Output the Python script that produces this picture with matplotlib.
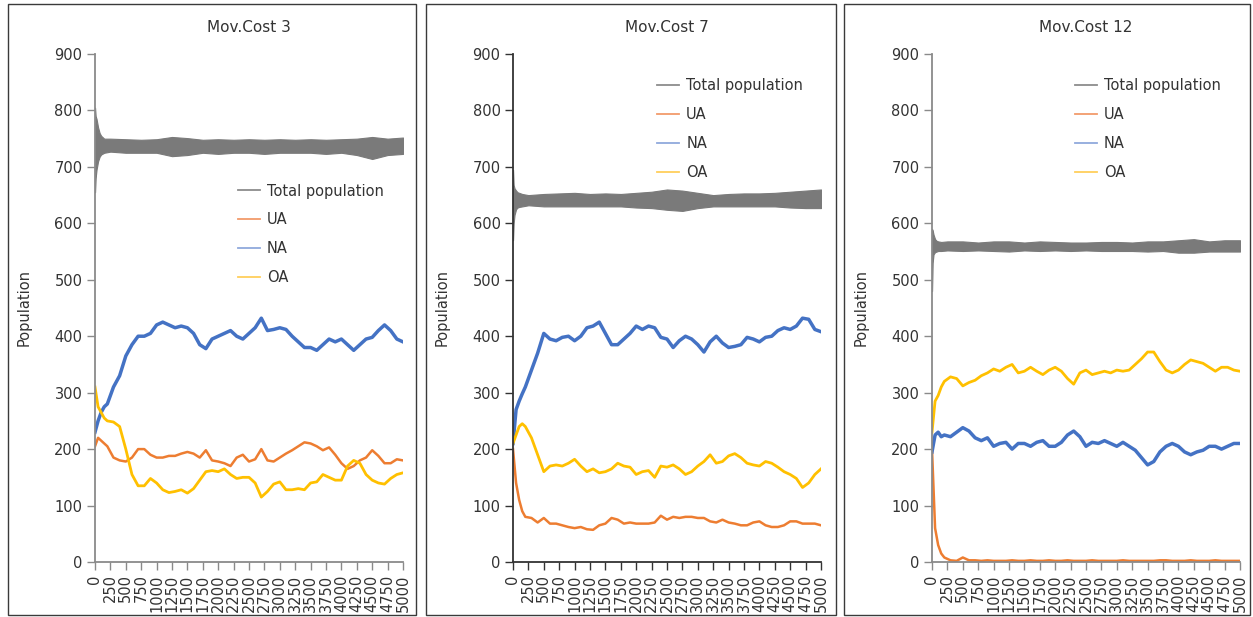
import matplotlib
matplotlib.use('Agg')
import matplotlib.pyplot as plt
from matplotlib.lines import Line2D
from matplotlib.patches import Rectangle

# time steps for the agent groups and for the total population band
steps = [0, 50, 100, 150, 200] + list(range(300, 5001, 100))
tsteps = [0, 10, 25, 50, 75, 100, 150, 250, 500, 750, 1000, 1250, 1500, 1750,
          2000, 2250, 2500, 2750, 3000, 3250, 3500, 3750, 4000, 4250, 4500, 4750, 5000]

titles = ['Mov.Cost 3', 'Mov.Cost 7', 'Mov.Cost 12']
labels = ['Total population', 'UA', 'NA', 'OA']

# Mov.Cost 3
tot3_lo = [655, 680, 695, 710, 718, 722, 725, 727, 725, 725, 725, 719, 721, 725, 723, 725,
           725, 723, 725, 725, 725, 723, 725, 721, 714, 721, 723]
tot3_hi = [805, 790, 785, 770, 760, 755, 750, 750, 749, 748, 749, 753, 751, 748, 749, 748,
           749, 748, 749, 748, 749, 748, 749, 750, 753, 750, 752]
ua3 = [205, 220, 215, 210, 205, 185, 180, 178, 185, 200, 200, 190, 185, 185, 188, 188, 192,
       195, 192, 185, 198, 180, 178, 175, 170, 185, 190, 178, 182, 200, 180, 178, 185, 192,
       198, 205, 212, 210, 205, 198, 203, 190, 175, 165, 170, 180, 185, 198, 188, 175, 175,
       182, 180]
na3 = [230, 250, 265, 275, 280, 310, 330, 365, 385, 400, 400, 405, 420, 425, 420, 415, 418,
       415, 405, 385, 378, 395, 400, 405, 410, 400, 395, 405, 415, 432, 410, 412, 415, 412,
       400, 390, 380, 380, 375, 385, 395, 390, 395, 385, 375, 385, 395, 398, 410, 420, 410,
       395, 390]
oa3 = [310, 275, 265, 255, 250, 248, 240, 200, 155, 135, 135, 148, 140, 128, 123, 125, 128,
       122, 130, 145, 160, 162, 160, 165, 155, 148, 150, 150, 140, 115, 125, 138, 142, 128,
       128, 130, 128, 140, 142, 155, 150, 145, 145, 170, 180, 175, 155, 145, 140, 138, 148,
       155, 158]

# Mov.Cost 7
tot7_lo = [570, 600, 615, 625, 628, 629, 630, 632, 630, 630, 630, 630, 630, 630, 628, 627,
           624, 622, 627, 630, 630, 630, 630, 630, 628, 627, 627]
tot7_hi = [695, 668, 662, 658, 655, 654, 652, 650, 652, 653, 654, 652, 653, 652, 654, 656,
           660, 658, 654, 650, 652, 653, 653, 654, 656, 658, 660]
ua7 = [200, 140, 110, 90, 80, 78, 70, 78, 68, 68, 65, 62, 60, 62, 58, 57, 65, 68, 78, 75,
       68, 70, 68, 68, 68, 70, 82, 75, 80, 78, 80, 80, 78, 78, 72, 70, 75, 70, 68, 65, 65,
       70, 72, 65, 62, 62, 65, 72, 72, 68, 68, 68, 65]
na7 = [210, 270, 285, 298, 310, 340, 370, 405, 395, 392, 398, 400, 392, 400, 415, 418, 425,
       405, 385, 385, 395, 405, 418, 412, 418, 415, 398, 395, 380, 392, 400, 395, 385, 372,
       390, 400, 388, 380, 382, 385, 398, 395, 390, 398, 400, 410, 415, 412, 418, 432, 430,
       412, 408]
oa7 = [210, 225, 240, 245, 240, 220, 190, 160, 170, 172, 170, 175, 182, 170, 160, 165, 158,
       160, 165, 175, 170, 168, 155, 160, 162, 150, 170, 168, 172, 165, 155, 160, 170, 178,
       190, 175, 178, 188, 192, 185, 175, 172, 170, 178, 175, 168, 160, 155, 148, 132, 140,
       155, 165]

# Mov.Cost 12
tot12_lo = [480, 530, 545, 549, 550, 551, 551, 552, 551, 552, 551, 550, 552, 551, 552, 551,
            552, 551, 551, 551, 550, 551, 548, 548, 550, 550, 550]
tot12_hi = [590, 588, 580, 572, 569, 568, 567, 568, 568, 566, 568, 568, 566, 568, 567, 566,
            566, 567, 567, 566, 568, 568, 570, 572, 568, 570, 570]
ua12 = [200, 60, 30, 15, 8, 3, 2, 8, 3, 3, 2, 3, 2, 2, 2, 3, 2, 2, 3, 2, 2, 3, 2, 2, 3, 2,
        2, 2, 3, 2, 2, 2, 2, 3, 2, 2, 2, 2, 2, 3, 3, 2, 2, 2, 3, 2, 2, 2, 3, 2, 2, 2, 2]
na12 = [195, 225, 230, 222, 225, 222, 230, 238, 232, 220, 215, 220, 205, 210, 212, 200, 210,
        210, 205, 212, 215, 205, 205, 212, 225, 232, 222, 205, 212, 210, 215, 210, 205, 212,
        205, 198, 185, 172, 178, 195, 205, 210, 205, 195, 190, 195, 198, 205, 205, 200, 205,
        210, 210]
oa12 = [230, 285, 295, 310, 320, 328, 325, 312, 318, 322, 330, 335, 342, 338, 345, 350, 335,
        338, 345, 338, 332, 340, 345, 338, 325, 315, 335, 340, 332, 335, 338, 335, 340, 338,
        340, 350, 360, 372, 372, 355, 340, 335, 340, 350, 358, 355, 352, 345, 338, 345, 345,
        340, 338]

panels = [
    (tot3_lo, tot3_hi, ua3, na3, oa3),
    (tot7_lo, tot7_hi, ua7, na7, oa7),
    (tot12_lo, tot12_hi, ua12, na12, oa12),
]

c_tot = '#7a7a7a'
c_ua = '#ED7D31'
c_na = '#4472C4'
c_oa = '#FFC000'
c_leg = ['#8c8c8c', '#f29b6b', '#90a9dc', '#ffcf5c']

W, H = 1253, 617
fig = plt.figure(figsize=(W / 100, H / 100), dpi=100)

ax_left = [95, 513, 932]
boxes = [(8, 416), (426, 836), (844, 1250)]
leg_pos = [(0.464, 0.745), (0.4675, 0.952), (0.464, 0.952)]
spine_col = ['#8a8a8a', '#333333', '#8a8a8a']

for i, (lo, hi, ua, na, oa) in enumerate(panels):
    fig.patches.append(Rectangle((boxes[i][0] / W, 1 - 615 / H), (boxes[i][1] - boxes[i][0]) / W,
                                 611 / H, transform=fig.transFigure, fill=False,
                                 edgecolor='#3a3a3a', linewidth=1.0))
    ax = fig.add_axes([ax_left[i] / W, 1 - 562 / H, 308 / W, 508 / H])
    ax.fill_between(tsteps, lo, hi, color=c_tot, linewidth=0.8, edgecolor=c_tot)
    ax.plot(steps, ua, color=c_ua, linewidth=1.8)
    ax.plot(steps, na, color=c_na, linewidth=2.5)
    ax.plot(steps, oa, color=c_oa, linewidth=2.0)

    ax.set_xlim(0, 5000)
    ax.set_ylim(0, 900)
    ax.set_xticks(range(0, 5001, 250))
    ax.set_yticks(range(0, 901, 100))
    ax.tick_params(axis='x', labelrotation=90)
    ax.tick_params(labelsize=10.5, colors='#333333', length=6, width=1, pad=3)
    ax.tick_params(axis='both', color=spine_col[i])
    for s in ['top', 'right']:
        ax.spines[s].set_visible(False)
    for s in ['left', 'bottom']:
        ax.spines[s].set_color(spine_col[i])
        ax.spines[s].set_linewidth(1.3)

    ax.text(0.5, 1 + 26 / 508, titles[i], transform=ax.transAxes, ha='center', va='center',
            fontsize=11, color='#333333')
    ax.set_ylabel('Population', fontsize=10.5, color='#333333')
    ax.yaxis.set_label_coords(-0.205, 0.5)

    handles = [Line2D([], [], color=c, linewidth=1.3) for c in c_leg]
    ax.legend(handles, labels, loc='upper left', bbox_to_anchor=leg_pos[i], frameon=False,
              fontsize=10.5, handlelength=1.5, handletextpad=0.5, labelspacing=0.95,
              borderpad=0, borderaxespad=0, labelcolor='#333333')

fig.savefig('out.png', dpi=100)
